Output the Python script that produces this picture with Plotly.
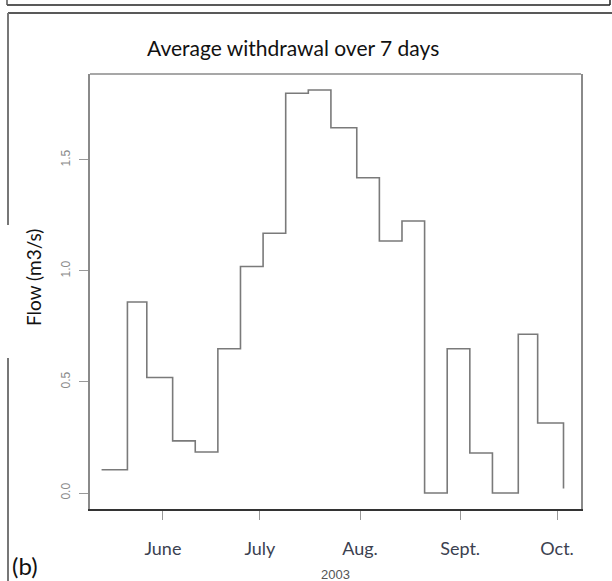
import plotly.graph_objects as go

# ---- data ----
dates = ["2003-05-13", "2003-05-21", "2003-05-27", "2003-06-04", "2003-06-11",
         "2003-06-18", "2003-06-25", "2003-07-02", "2003-07-09", "2003-07-16",
         "2003-07-23", "2003-07-31", "2003-08-07", "2003-08-14", "2003-08-21",
         "2003-08-28", "2003-09-04", "2003-09-11", "2003-09-19", "2003-09-25",
         "2003-10-03"]
flow = [0.105, 0.86, 0.52, 0.235, 0.185, 0.65, 1.02, 1.17, 1.80, 1.815,
        1.645, 1.42, 1.135, 1.225, 0.0, 0.65, 0.18, 0.0, 0.715, 0.315, 0.02]
tick_dates = ["2003-06-01", "2003-07-01", "2003-08-01", "2003-09-01", "2003-10-01"]
tick_labels = ["June", "July", "Aug.", "Sept.", "Oct."]
y_ticks = [0.0, 0.5, 1.0, 1.5]
y_ticklabels = ["0.0", "0.5", "1.0", "1.5"]

W, H = 612, 581
L, R, T, B = 90, 581, 74, 509  # plot area in pixels


def px(x):
    return (x - L) / (R - L)


def py(y):
    return (B - y) / (B - T)


fig = go.Figure()
fig.add_trace(go.Scatter(
    x=dates, y=flow, mode="lines", line_shape="hv",
    line=dict(color="#7a7a7a", width=1.6), showlegend=False, hoverinfo="skip"))

fig.update_layout(
    width=W, height=H,
    margin=dict(l=L, r=W - R, t=T, b=H - B, pad=0),
    paper_bgcolor="white", plot_bgcolor="white",
    showlegend=False,
    xaxis=dict(
        type="date", range=["2003-05-09 10:00", "2003-10-08 10:00"],
        tickvals=tick_dates, ticktext=tick_labels,
        ticks="outside", ticklen=9, tickwidth=1.2, tickcolor="#999999",
        showgrid=False, zeroline=False,
        showline=True, linecolor="#333333", linewidth=1.5,
        tickfont=dict(family="Lato", size=18, color="#3b4150"),
        ticklabelstandoff=14,
    ),
    yaxis=dict(
        range=[-0.072, 1.887],
        tickvals=y_ticks, ticktext=y_ticklabels,
        ticks="outside", ticklen=9, tickwidth=1.2, tickcolor="#999999",
        showgrid=False, zeroline=False,
        showline=True, linecolor="#8a8a8a", linewidth=1.5, mirror=True,
        tickangle=-90,
        tickfont=dict(family="Liberation Sans", size=12, color="#8a8a8a"),
        ticklabelstandoff=4,
    ),
)

shapes = []
# top border of plot box (gray)
shapes.append(dict(type="line", xref="paper", yref="paper", x0=0, x1=1, y0=1, y1=1,
                   line=dict(color="#8a8a8a", width=1.5)))
# previous panel's bottom frame
shapes.append(dict(type="line", xref="paper", yref="paper", x0=px(7), x1=px(610),
                   y0=py(5), y1=py(5), line=dict(color="#222222", width=1.5)))
shapes.append(dict(type="line", xref="paper", yref="paper", x0=px(7), x1=px(7),
                   y0=py(-5), y1=py(5), line=dict(color="#555555", width=1.5)))
shapes.append(dict(type="line", xref="paper", yref="paper", x0=px(610), x1=px(610),
                   y0=py(-5), y1=py(5), line=dict(color="#222222", width=1.5)))
# current panel frame
shapes.append(dict(type="line", xref="paper", yref="paper", x0=px(8), x1=px(612),
                   y0=py(13), y1=py(13), line=dict(color="#222222", width=1.5)))
shapes.append(dict(type="line", xref="paper", yref="paper", x0=px(8), x1=px(8),
                   y0=py(13), y1=py(225), line=dict(color="#777777", width=2)))
shapes.append(dict(type="line", xref="paper", yref="paper", x0=px(8), x1=px(8),
                   y0=py(358), y1=py(590), line=dict(color="#777777", width=2)))
fig.update_layout(shapes=shapes)

annotations = [
    dict(text="Average withdrawal over 7 days", x=px(293), y=py(47), xref="paper", yref="paper",
         showarrow=False, xanchor="center", yanchor="middle",
         font=dict(family="Lato", size=21, color="#111111")),
    dict(text="Flow (m3/s)", x=px(33), y=py(278), xref="paper", yref="paper",
         showarrow=False, xanchor="center", yanchor="middle", textangle=-90,
         font=dict(family="Lato", size=19, color="#111111")),
    dict(text="2003", x=px(335), y=py(574), xref="paper", yref="paper",
         showarrow=False, xanchor="center", yanchor="middle",
         font=dict(family="Liberation Sans", size=13, color="#555555")),
    dict(text="(b)", x=px(10), y=py(565), xref="paper", yref="paper",
         showarrow=False, xanchor="left", yanchor="middle",
         font=dict(family="Lato", size=24, color="#111111")),
]
fig.update_layout(annotations=annotations)

fig.write_html("out.html", config={"displayModeBar": False},
               post_script="document.body.style.margin='0';document.body.style.overflow='hidden';")
